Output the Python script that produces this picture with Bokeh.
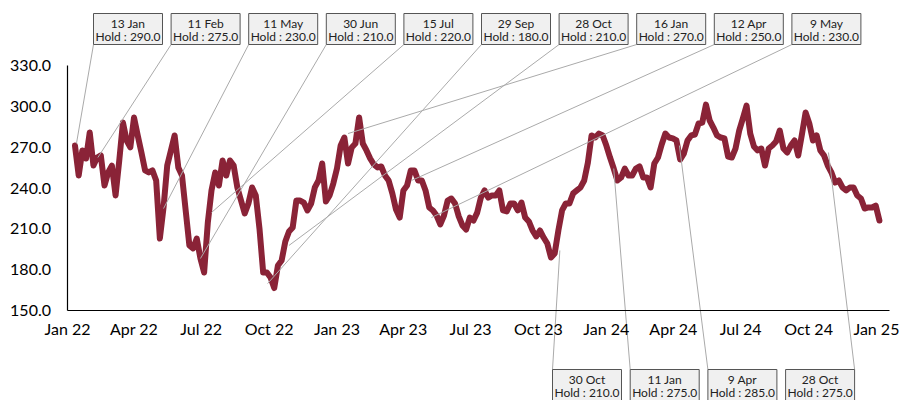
import numpy as np
import pandas as pd
from bokeh.plotting import figure
from bokeh.models import Range1d, FixedTicker, NumeralTickFormatter, DatetimeTickFormatter
from bokeh.core.properties import value
from bokeh.embed import file_html
from bokeh.resources import INLINE

# ---------------- data ----------------
series_start = "2022-01-11"
series_step = "5D"
hold_values = [
    271.2, 249.2, 267.6, 261.7, 280.8, 256.5, 262.4, 263.9, 241.8, 251.4,
    256.5, 234.5, 260.2, 288.1, 274.9, 269.8, 291.8, 278.6, 266.1, 252.9,
    251.4, 252.9, 245.5, 202.9, 225.7, 256.5, 267.6, 278.6, 255.1, 249.2,
    223.5, 197.8, 195.6, 202.9, 188.2, 177.9, 214.6, 238.2, 251.4, 241.8,
    260.2, 249.2, 260.2, 256.5, 240.4, 230.8, 221.3, 228.6, 240.4, 234.5,
    210.2, 177.9, 177.9, 174.2, 166.5, 183.1, 186.7, 200.7, 208.0, 211.0,
    230.8, 230.8, 229.3, 223.5, 228.6, 240.4, 245.5, 258.0, 230.1, 234.5,
    243.3, 254.3, 271.2, 277.1, 258.0, 269.8, 272.7, 291.8, 272.7, 267.6,
    261.7, 257.3, 255.1, 255.8, 249.2, 245.5, 236.0, 224.2, 218.3, 238.2,
    241.8, 252.9, 252.9, 245.5, 245.5, 238.2, 225.7, 223.5, 219.8, 213.2,
    219.8, 230.8, 232.3, 228.6, 219.1, 212.5, 209.5, 218.3, 216.1, 221.9,
    233.0, 238.2, 233.0, 234.5, 234.5, 238.2, 223.5, 222.8, 228.6, 228.6,
    223.5, 229.3, 218.3, 215.4, 208.8, 204.4, 208.8, 203.6, 199.2, 188.9,
    191.9, 208.8, 223.5, 228.6, 228.6, 236.0, 238.2, 240.4, 245.5, 258.7,
    278.6, 277.1, 280.0, 278.6, 271.2, 262.4, 254.3, 245.5, 247.7, 254.3,
    249.2, 249.2, 254.3, 255.8, 247.7, 247.7, 240.4, 258.0, 262.4, 272.0,
    280.0, 277.1, 276.4, 274.9, 260.9, 265.3, 274.9, 278.6, 279.3, 287.4,
    288.1, 301.3, 289.6, 284.4, 278.6, 277.1, 276.4, 263.1, 262.4, 269.0,
    282.2, 291.1, 300.6, 280.0, 270.5, 267.6, 269.0, 256.5, 269.0, 271.2,
    274.2, 282.2, 269.0, 266.1, 271.2, 274.9, 263.9, 279.3, 295.5, 287.4,
    274.9, 278.6, 267.6, 263.9, 256.5, 251.4, 244.0, 245.5, 240.4, 238.2,
    240.4, 240.4, 234.5, 232.3, 224.9, 225.7, 225.7, 227.1, 216.1,
]

top_labels = ["13 Jan", "11 Feb", "11 May", "30 Jun", "15 Jul", "29 Sep", "28 Oct", "16 Jan", "12 Apr", "9 May"]
top_dates = ["2022-01-13", "2022-02-11", "2022-05-11", "2022-06-30", "2022-07-15",
             "2022-09-29", "2022-10-28", "2023-01-16", "2023-04-12", "2023-05-09"]
top_holds = [290.0, 275.0, 230.0, 210.0, 220.0, 180.0, 210.0, 270.0, 250.0, 230.0]
top_points = [272.7, 262.4, 224.9, 188.2, 222.0, 169.8, 197.8, 280.0, 245.5, 218.3]

bottom_labels = ["30 Oct", "11 Jan", "9 Apr", "28 Oct"]
bottom_dates = ["2023-10-30", "2024-01-11", "2024-04-09", "2024-10-28"]
bottom_holds = [210.0, 275.0, 285.0, 275.0]
bottom_points = [194.1, 254.3, 271.2, 266.1]
bottom_anchor = ["left", "left", "left", "right"]

y_ticks = [150, 180, 210, 240, 270, 300, 330]
x_tick_dates = ["2022-01-01", "2022-04-01", "2022-07-01", "2022-10-01",
                "2023-01-01", "2023-04-01", "2023-07-01", "2023-10-01",
                "2024-01-01", "2024-04-01", "2024-07-01", "2024-10-01", "2025-01-01"]

# ---------------- helpers (layout in canvas pixels) ----------------
MS_DAY = 86400000.0
origin_ms = pd.Timestamp("2022-01-01").value / 1e6


def to_ms(d):
    return pd.Timestamp(d).value / 1e6


def x_of_px(px):
    return origin_ms + (px - 67.1) / 0.738 * MS_DAY


def y_of_px(py):
    return 150 + (310 - py) * 180.0 / 245.0


W, H = 909, 400
p = figure(width=W, height=H, x_axis_type="datetime",
           x_range=Range1d(x_of_px(0), x_of_px(W)),
           y_range=Range1d(y_of_px(H), y_of_px(0)),
           output_backend="svg", toolbar_location=None, title=None,
           min_border=0)
p.outline_line_color = None
p.grid.visible = False

# axes
p.xaxis.fixed_location = 150
p.yaxis.fixed_location = x_of_px(66.5)
p.xaxis.bounds = (x_of_px(66.5), x_of_px(889))
p.yaxis.bounds = (150, 330)
p.yaxis.ticker = FixedTicker(ticks=y_ticks)
p.yaxis.formatter = NumeralTickFormatter(format="0.0")
p.xaxis.ticker = FixedTicker(ticks=[to_ms(d) for d in x_tick_dates])
p.xaxis.formatter = DatetimeTickFormatter(days="%b %y", months="%b %y", years="%b %y")
for ax in (p.xaxis, p.yaxis):
    ax.axis_line_color = "black"
    ax.axis_line_width = 1.2
    ax.major_tick_out = 0
    ax.major_tick_in = 0
    ax.minor_tick_out = 0
    ax.minor_tick_in = 0
    ax.major_label_text_font = "Lato"
    ax.major_label_text_font_size = "16px"
    ax.major_label_text_color = "black"
p.xaxis.major_label_standoff = 8
p.yaxis.major_label_standoff = 16

# series
dates = pd.date_range(series_start, periods=len(hold_values), freq=series_step)
xs = [to_ms(d) for d in dates]
p.line(xs, hold_values, line_width=6, color="#8a2337", line_join="round", line_cap="round")

# annotations
BOX_W, BOX_H = 69, 31
lead_x0, lead_y0, lead_x1, lead_y1 = [], [], [], []
q_l, q_r, q_t, q_b = [], [], [], []
t_x, t_y, t_txt = [], [], []

for k, (lab, d, hv, pv) in enumerate(zip(top_labels, top_dates, top_holds, top_points)):
    left = 93 + 77.6 * k
    top = 13
    q_l.append(x_of_px(left)); q_r.append(x_of_px(left + BOX_W))
    q_t.append(y_of_px(top)); q_b.append(y_of_px(top + BOX_H))
    cx = x_of_px(left + BOX_W / 2)
    t_x += [cx, cx]
    t_y += [y_of_px(top + 10), y_of_px(top + 23)]
    t_txt += [lab, "Hold : %.1f" % hv]
    lead_x0.append(x_of_px(left)); lead_y0.append(y_of_px(top + BOX_H))
    lead_x1.append(to_ms(d)); lead_y1.append(pv)

for k, (lab, d, hv, pv, side) in enumerate(zip(bottom_labels, bottom_dates, bottom_holds, bottom_points, bottom_anchor)):
    left = 552 + 77.7 * k
    top = 369
    q_l.append(x_of_px(left)); q_r.append(x_of_px(left + BOX_W))
    q_t.append(y_of_px(top)); q_b.append(y_of_px(top + BOX_H))
    cx = x_of_px(left + BOX_W / 2)
    t_x += [cx, cx]
    t_y += [y_of_px(top + 10), y_of_px(top + 23)]
    t_txt += [lab, "Hold : %.1f" % hv]
    ax_px = left if side == "left" else left + BOX_W
    lead_x0.append(x_of_px(ax_px)); lead_y0.append(y_of_px(top))
    lead_x1.append(to_ms(d)); lead_y1.append(pv)

p.segment(lead_x0, lead_y0, lead_x1, lead_y1, line_color="#aaaaaa", line_width=1)
p.quad(left=q_l, right=q_r, top=q_t, bottom=q_b, fill_color="#f0f0f0",
       line_color="#555555", line_width=1)
p.text(t_x, t_y, text=t_txt, text_align="center", text_baseline="middle",
       text_font=value("Lato"), text_font_size="12px", text_color="#222222")

open("out.html", "w").write(file_html(p, INLINE))
